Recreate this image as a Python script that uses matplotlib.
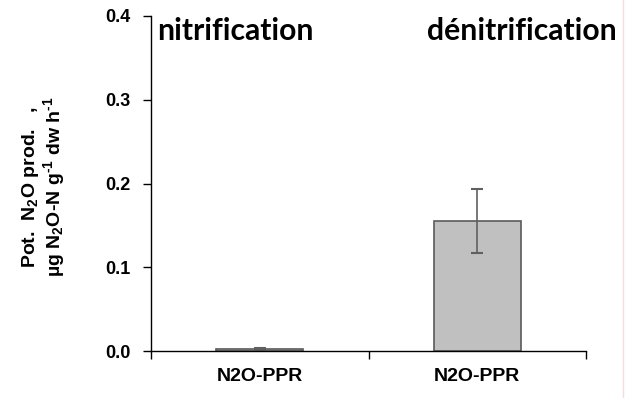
import matplotlib
matplotlib.use("Agg")
import matplotlib.pyplot as plt
from matplotlib.lines import Line2D

plt.rcParams["mathtext.fontset"] = "custom"
plt.rcParams["mathtext.rm"] = "Liberation Sans:bold"
plt.rcParams["mathtext.it"] = "Liberation Sans:bold"
plt.rcParams["mathtext.bf"] = "Liberation Sans:bold"
plt.rcParams["mathtext.default"] = "rm"

categories = ["N2O-PPR", "N2O-PPR"]
values = [0.002, 0.155]
errors = [0.001, 0.038]
panel_titles = ["nitrification", "dénitrification"]
yticks = [0.0, 0.1, 0.2, 0.3, 0.4]
ylabel = "Pot.  N$_2$O prod.   ,\nµg N$_2$O-N g$^{\\text{-}1}$ dw h$^{\\text{-}1}$"

fig = plt.figure(figsize=(6.25, 3.98), dpi=100)
ax = fig.add_axes([151/625, 1-351/398, 435/625, 335/398])

x = [0, 1]
ax.bar(x, values, width=0.4, color="#c0c0c0", edgecolor="#5a5a5a", linewidth=1.2,
       yerr=errors, error_kw=dict(ecolor="#606060", elinewidth=1.2, capsize=4, capthick=1.5))
ax.set_xlim(-0.5, 1.5)
ax.set_ylim(0, 0.4)
ax.set_yticks(yticks)
ax.set_yticklabels([f"{v:.1f}" for v in yticks], fontsize=13, fontweight="bold", family="Liberation Sans")
ax.set_xticks([-0.5, 0.5, 1.5])
ax.set_xticklabels([])
ax.set_xticks(x, minor=True)
ax.set_xticklabels(categories, minor=True, fontsize=14, fontweight="bold", family="Liberation Sans")
ax.tick_params(axis="x", which="minor", length=0, pad=12)
ax.tick_params(axis="x", which="major", direction="out", length=6, width=1)
ax.tick_params(axis="y", direction="out", length=6, width=1, pad=9)
for s in ["top", "right"]:
    ax.spines[s].set_visible(False)
for s in ["left", "bottom"]:
    ax.spines[s].set_linewidth(1.0)

ax.set_ylabel(ylabel, fontsize=14, fontweight="bold",
              family="Liberation Sans", linespacing=1.0)
ax.yaxis.set_label_coords((67-151)/435, 0.49)

fig.text(157/625, 1-31/398, panel_titles[0], fontsize=21.7, fontweight="bold", family="Lato",
         ha="left", va="center")
fig.text(427/625, 1-31/398, panel_titles[1], fontsize=21.7, fontweight="bold", family="Lato",
         ha="left", va="center")

fig.add_artist(Line2D([623/625, 623/625], [0, 1], color="#f3dede", linewidth=1, transform=fig.transFigure))

fig.savefig("out.png", dpi=100)
